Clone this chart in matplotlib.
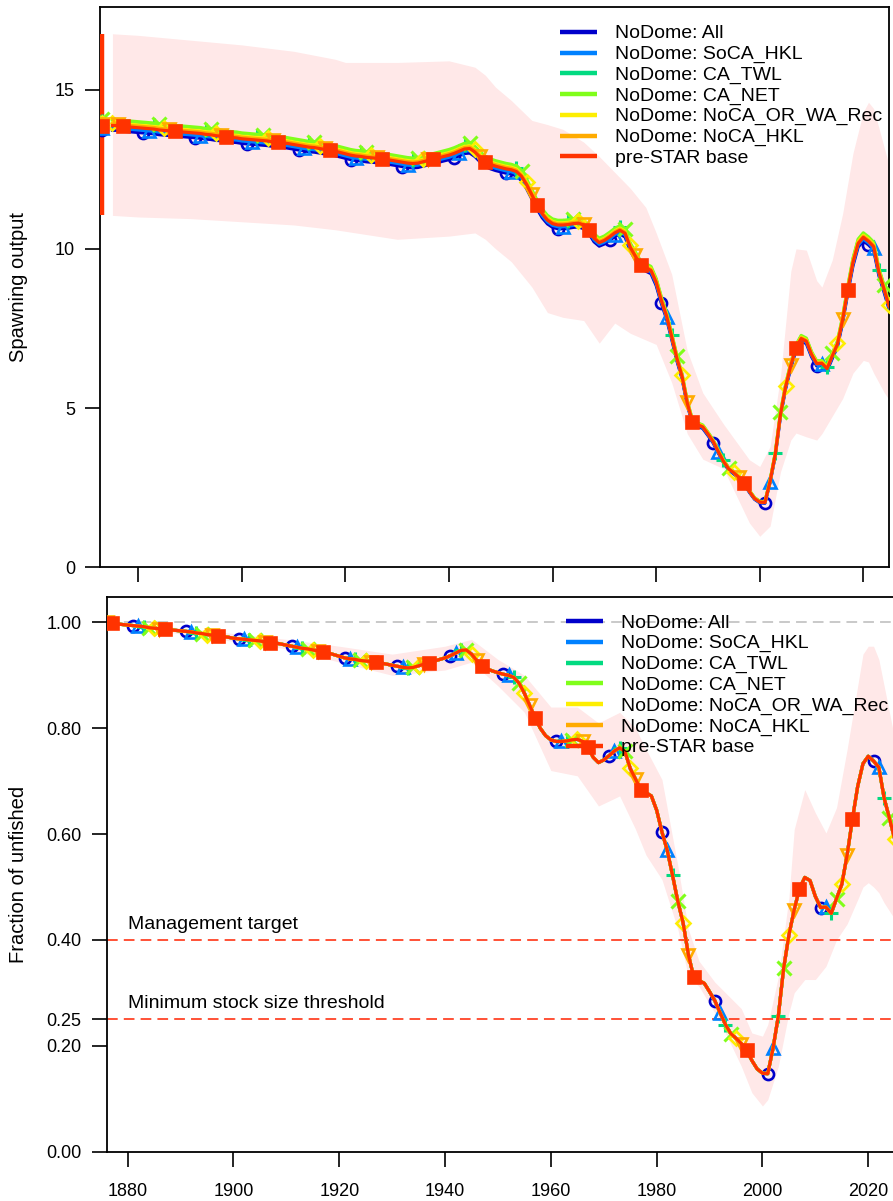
import numpy as np
import matplotlib
matplotlib.use("Agg")
import matplotlib.pyplot as plt

plt.rcParams["font.family"] = ["Liberation Sans", "DejaVu Sans"]

# ---------------------------------------------------------------- data
model_labels = [
    "NoDome: All",
    "NoDome: SoCA_HKL",
    "NoDome: CA_TWL",
    "NoDome: CA_NET",
    "NoDome: NoCA_OR_WA_Rec",
    "NoDome: NoCA_HKL",
    "pre-STAR base",
]
model_colors = ["#0000CB", "#0081FF", "#02DA81", "#80FE1A", "#FDEE02", "#FFAB00", "#FF3300"]
model_markers = ["o", "^", "+", "x", "D", "v", "s"]

# unfished (virgin) spawning output of each model
sb0 = [13.72, 13.80, 14.00, 14.06, 13.96, 13.92, 13.87]
virgin_year = 1873
# 95% interval of the base model's unfished spawning output
sb0_base_ci = [11.05, 16.75]

years = list(range(1875, 2026))
frac_unfished = [
    1.000, 1.000, 0.998, 0.997, 0.996, 0.995, 0.994, 0.993, 0.992, 0.990,  # 1875-1884
    0.989, 0.988, 0.987, 0.986, 0.985, 0.984, 0.983, 0.982, 0.980, 0.979,  # 1885-1894
    0.977, 0.976, 0.974, 0.973, 0.972, 0.970, 0.969, 0.968, 0.967, 0.966,  # 1895-1904
    0.965, 0.963, 0.962, 0.961, 0.959, 0.957, 0.955, 0.953, 0.951, 0.950,  # 1905-1914
    0.948, 0.946, 0.944, 0.942, 0.939, 0.936, 0.933, 0.931, 0.930, 0.928,  # 1915-1924
    0.927, 0.926, 0.925, 0.923, 0.921, 0.919, 0.917, 0.915, 0.914, 0.915,  # 1925-1934
    0.918, 0.921, 0.924, 0.927, 0.930, 0.933, 0.937, 0.942, 0.947, 0.948,  # 1935-1944
    0.940, 0.928, 0.918, 0.912, 0.908, 0.905, 0.902, 0.900, 0.896, 0.885,  # 1945-1954
    0.866, 0.843, 0.820, 0.800, 0.786, 0.778, 0.775, 0.775, 0.776, 0.778,  # 1955-1964
    0.779, 0.775, 0.764, 0.745, 0.735, 0.740, 0.748, 0.757, 0.763, 0.756,  # 1965-1974
    0.724, 0.704, 0.684, 0.678, 0.672, 0.645, 0.604, 0.569, 0.522, 0.473,  # 1975-1984
    0.432, 0.372, 0.330, 0.323, 0.318, 0.302, 0.285, 0.262, 0.240, 0.223,  # 1985-1994
    0.214, 0.204, 0.191, 0.172, 0.156, 0.148, 0.147, 0.195, 0.256, 0.346,  # 1995-2004
    0.409, 0.457, 0.497, 0.518, 0.512, 0.482, 0.461, 0.462, 0.450, 0.478,  # 2005-2014
    0.505, 0.560, 0.628, 0.690, 0.733, 0.747, 0.738, 0.726, 0.668, 0.630,  # 2015-2024
    0.590,                                                                  # 2025
]

# uncertainty envelope of the base model, spawning output
ci_sb_years = [1875, 1880, 1890, 1900, 1910, 1918, 1920, 1930, 1940, 1945, 1947,
               1949, 1952, 1956, 1959, 1962, 1966, 1969, 1972, 1975, 1978, 1980,
               1983, 1986, 1989, 1993, 1998, 2000, 2002, 2004, 2006, 2007, 2009,
               2011, 2012, 2014, 2016, 2018, 2020, 2021, 2022, 2024, 2025]
ci_sb_upper = [16.75, 16.70, 16.55, 16.40, 16.20, 15.95, 15.85, 15.85, 15.90, 15.70, 15.45,
               15.07, 14.66, 14.03, 13.90, 13.75, 13.35, 12.90, 12.40, 11.90, 11.30, 10.50,
               9.20, 6.80, 5.48, 4.50, 3.38, 3.17, 3.80, 6.00, 9.30, 10.00, 9.96,
               9.00, 8.80, 9.65, 11.10, 13.00, 14.30, 14.60, 14.40, 13.20, 12.60]
ci_sb_lower = [11.05, 11.00, 10.95, 10.85, 10.75, 10.60, 10.55, 10.30, 10.40, 10.50, 10.30,
               10.00, 9.60, 8.80, 8.00, 7.85, 7.75, 7.04, 7.67, 7.35, 7.14, 7.00,
               5.80, 4.20, 3.40, 3.10, 1.40, 0.98, 1.30, 3.00, 4.00, 4.22, 4.10,
               4.00, 4.20, 4.75, 5.30, 6.10, 6.50, 6.45, 6.10, 5.50, 5.26]

# uncertainty envelope of the base model, fraction of unfished
ci_frac_years = [1877, 1890, 1910, 1920, 1930, 1940, 1945, 1950, 1955, 1960, 1965,
                 1969, 1973, 1976, 1978, 1981, 1984, 1986, 1988, 1991, 1993, 1996,
                 1998, 2000, 2001, 2003, 2005, 2006, 2008, 2010, 2012, 2014, 2016,
                 2018, 2019, 2020, 2021, 2022, 2023, 2025]
ci_frac_upper = [1.000, 0.990, 0.968, 0.955, 0.940, 0.955, 0.968, 0.930, 0.900, 0.840, 0.840,
                 0.810, 0.830, 0.800, 0.760, 0.703, 0.540, 0.420, 0.360, 0.320, 0.300, 0.270,
                 0.224, 0.218, 0.240, 0.330, 0.480, 0.609, 0.684, 0.640, 0.602, 0.650, 0.760,
                 0.880, 0.940, 0.955, 0.955, 0.930, 0.880, 0.780]
ci_frac_lower = [1.000, 0.978, 0.950, 0.925, 0.900, 0.910, 0.925, 0.880, 0.830, 0.720, 0.710,
                 0.653, 0.672, 0.609, 0.560, 0.514, 0.420, 0.330, 0.312, 0.262, 0.224, 0.161,
                 0.111, 0.086, 0.098, 0.161, 0.262, 0.300, 0.325, 0.325, 0.350, 0.400, 0.430,
                 0.476, 0.500, 0.508, 0.500, 0.489, 0.470, 0.439]

ref_target = 0.40
ref_threshold = 0.25

frac_arr = np.array(frac_unfished)
yrs = np.array(years)

# ---------------------------------------------------------------- figure
W, H = 893, 1201
fig = plt.figure(figsize=(W / 100, H / 100), dpi=100)


def px_box(left, top, right, bottom):
    return [left / W, 1 - bottom / H, (right - left) / W, (bottom - top) / H]


ax1 = fig.add_axes(px_box(100, 7, 889, 567.5))
ax2 = fig.add_axes(px_box(106.5, 597, 920, 1151.5))

shade = (1.0, 0.91, 0.91)
line_w = 2.3
mk_size = 8
mk_edge = 1.9
leg_font = 14
lab_font = 14.5


def mark_idx(k):
    digit = (k + 1) % 10
    return [i for i, y in enumerate(years) if y % 10 == digit]


def style_markers(k):
    m = model_markers[k]
    c = model_colors[k]
    if m == "s":
        return dict(marker=m, markersize=mk_size, mfc=c, mec=c, mew=mk_edge)
    if m in ("+", "x"):
        return dict(marker=m, markersize=mk_size + 2, mfc=c, mec=c, mew=mk_edge + 0.3)
    if m == "D":
        return dict(marker=m, markersize=mk_size - 0.5, mfc="none", mec=c, mew=mk_edge)
    return dict(marker=m, markersize=mk_size, mfc="none", mec=c, mew=mk_edge)


def legend_at(ax, x_px, y_first_px, row_px):
    # one legend row per model: a short coloured segment, then the label
    inv = ax.transAxes.inverted()
    for k, (lab, col) in enumerate(zip(model_labels, model_colors)):
        yy = y_first_px + k * row_px
        (x0, y0) = inv.transform((x_px - 55, H - yy))
        (x1, _) = inv.transform((x_px - 18, H - yy))
        (xt, _) = inv.transform((x_px, H - yy))
        ax.plot([x0, x1], [y0, y0], transform=ax.transAxes, color=col, lw=3.2,
                solid_capstyle="butt", zorder=20, clip_on=False)
        ax.text(xt, y0, lab, transform=ax.transAxes, fontsize=leg_font,
                va="center_baseline", ha="left", zorder=21)


# ---- top panel: spawning output
ax1.fill_between(ci_sb_years, ci_sb_lower, ci_sb_upper, color=shade, lw=0, zorder=1)
ax1.plot([virgin_year, virgin_year], sb0_base_ci, color=model_colors[-1], lw=3.2,
         solid_capstyle="butt", zorder=3)
for k in range(len(model_labels)):
    sb = frac_arr * sb0[k]
    ax1.plot(yrs, sb, color=model_colors[k], lw=line_w, zorder=4 + k,
             markevery=mark_idx(k), **style_markers(k))
    ax1.plot([virgin_year], [sb0[k]], ls="none", zorder=4 + k, **style_markers(k))

ax1.set_xlim(1872.6, 2024.96)
ax1.set_ylim(0, 17.59)
ax1.set_yticks([0, 5, 10, 15])
ax1.set_yticklabels(["0", "5", "10", "15"])
ax1.set_xticks(range(1880, 2021, 20))
ax1.set_xticklabels([])
ax1.set_ylabel("Spawning output", fontsize=lab_font)
ax1.yaxis.set_label_coords((28 - 100) / 789, 0.5)
legend_at(ax1, 615, 32, 20.7)

# ---- bottom panel: fraction of unfished
ax2.fill_between(ci_frac_years, ci_frac_lower, ci_frac_upper, color=shade, lw=0, zorder=1)
ax2.axhline(1.0, color="#BBBBBB", lw=1.1, dashes=(7, 4), zorder=2)
ax2.axhline(ref_target, color="#FF2200", lw=1.1, dashes=(7, 4), zorder=2)
ax2.axhline(ref_threshold, color="#FF2200", lw=1.1, dashes=(7, 4), zorder=2)
ax2.text(1880, ref_target + 0.013, "Management target", fontsize=leg_font,
         va="bottom", ha="left")
ax2.text(1880, ref_threshold + 0.013, "Minimum stock size threshold", fontsize=leg_font,
         va="bottom", ha="left")
for k in range(len(model_labels)):
    ax2.plot(yrs, frac_arr, color=model_colors[k], lw=line_w, zorder=4 + k,
             markevery=mark_idx(k), **style_markers(k))

ax2.set_xlim(1876.0, 2029.78)
ax2.set_ylim(0, 1.048)
ax2.set_yticks([0.0, 0.2, 0.25, 0.4, 0.6, 0.8, 1.0])
ax2.set_yticklabels(["0.00", "0.20", "0.25", "0.40", "0.60", "0.80", "1.00"])
ax2.set_xticks(range(1880, 2021, 20))
ax2.set_ylabel("Fraction of unfished", fontsize=lab_font)
ax2.yaxis.set_label_coords((28 - 106.5) / 813.5, 0.5)
legend_at(ax2, 621, 621, 20.8)

for ax in (ax1, ax2):
    for s in ax.spines.values():
        s.set_linewidth(1.3)
    ax.tick_params(direction="out", length=11, width=1.2, labelsize=13)
    ax.tick_params(axis="y", pad=7)
ax2.tick_params(axis="x", pad=12)

fig.savefig("out.png", dpi=100)
